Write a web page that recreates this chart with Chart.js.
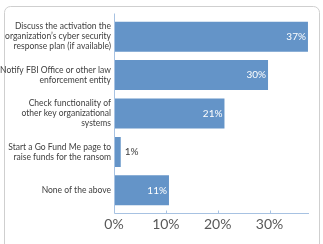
<!DOCTYPE html>
<html>
<head>
<meta charset="utf-8">
<script src="https://cdn.jsdelivr.net/npm/chart.js@4.4.0/dist/chart.umd.min.js"></script>
<style>
  html, body { margin: 0; padding: 0; background: #fff; }
</style>
</head>
<body>
<canvas id="myChart" width="323" height="244"></canvas>
<script>
const categories = [
  ['Discuss the activation the', 'organization\u2019s cyber security', 'response plan (if available)'],
  ['Notify FBI Office or other law', 'enforcement entity'],
  ['Check functionality of', 'other key organizational', 'systems'],
  ['Start a Go Fund Me page to', 'raise funds for the ransom'],
  'None of the above'
];
const values = [37.4, 29.7, 21.3, 1.3, 10.6];
const tickValues = [0, 10, 20, 30];

// light rounded frame around the chart
const frame = {
  id: 'frame',
  beforeDraw(chart) {
    const ctx = chart.ctx;
    ctx.save();
    ctx.strokeStyle = '#cfcfcf';
    ctx.lineWidth = 1;
    ctx.beginPath();
    ctx.roundRect(4.5, 6.5, 315, 260, 6);
    ctx.stroke();
    ctx.restore();
  }
};

// axis lines run a little past the plot area, with small inward ticks
const axisLines = {
  id: 'axisLines',
  afterDatasetsDraw(chart) {
    const ctx = chart.ctx;
    const a = chart.chartArea;
    const xs = chart.scales.x;
    const ext = 4;
    const left = Math.round(a.left) + 0.5;
    const bottom = Math.round(a.bottom + ext) - 0.5;
    ctx.save();
    ctx.strokeStyle = '#a7c2e2';
    ctx.lineWidth = 1;
    ctx.beginPath();
    ctx.moveTo(left, a.top - ext);
    ctx.lineTo(left, bottom);
    ctx.lineTo(a.right, bottom);
    tickValues.forEach(function(v) {
      if (v === 0) return;
      const x = Math.round(xs.getPixelForValue(v)) + 0.5;
      ctx.moveTo(x, bottom);
      ctx.lineTo(x, bottom - 3);
    });
    ctx.stroke();
    ctx.restore();
  }
};

// value labels drawn at the end of each bar
const barLabels = {
  id: 'barLabels',
  afterDatasetsDraw(chart) {
    const ctx = chart.ctx;
    const meta = chart.getDatasetMeta(0);
    ctx.save();
    ctx.font = '10px Lato';
    ctx.textBaseline = 'middle';
    meta.data.forEach(function(bar, i) {
      const txt = Math.round(values[i]) + '%';
      const w = bar.x - bar.base;
      if (w > 22) {
        ctx.fillStyle = '#ffffff';
        ctx.textAlign = 'right';
        ctx.fillText(txt, bar.x - 2, bar.y);
      } else {
        ctx.fillStyle = '#404040';
        ctx.textAlign = 'left';
        ctx.fillText(txt, bar.x + 4, bar.y);
      }
    });
    ctx.restore();
  }
};

const data = {
  labels: categories,
  datasets: [{
    data: values,
    backgroundColor: '#6494c8',
    borderWidth: 0,
    barPercentage: 0.78,
    categoryPercentage: 1
  }]
};

const config = {
  type: 'bar',
  data,
  plugins: [frame, axisLines, barLabels],
  options: {
    indexAxis: 'y',
    responsive: false,
    animation: false,
    layout: { padding: { top: 17.5, right: 14, bottom: 0, left: 0 } },
    plugins: { legend: { display: false }, tooltip: { enabled: false } },
    scales: {
      y: {
        grid: { display: false, drawTicks: false },
        border: { display: false },
        ticks: {
          color: '#404040',
          padding: 3,
          font: { family: 'Lato', size: 8.5, lineHeight: 1.18 }
        },
        afterFit(scale) { scale.width = 114; }
      },
      x: {
        min: 0,
        max: 37.6,
        afterBuildTicks(scale) { scale.ticks = tickValues.map(v => ({ value: v })); },
        grid: { display: false, drawTicks: false },
        border: { display: false },
        ticks: {
          color: '#595959',
          padding: 7,
          font: { family: 'Lato', size: 14 },
          callback: v => v + '%'
        },
        afterFit(scale) { scale.height = 34.5; }
      }
    }
  }
};

var myChart = new Chart(document.getElementById('myChart'), config);
</script>
</body>
</html>
